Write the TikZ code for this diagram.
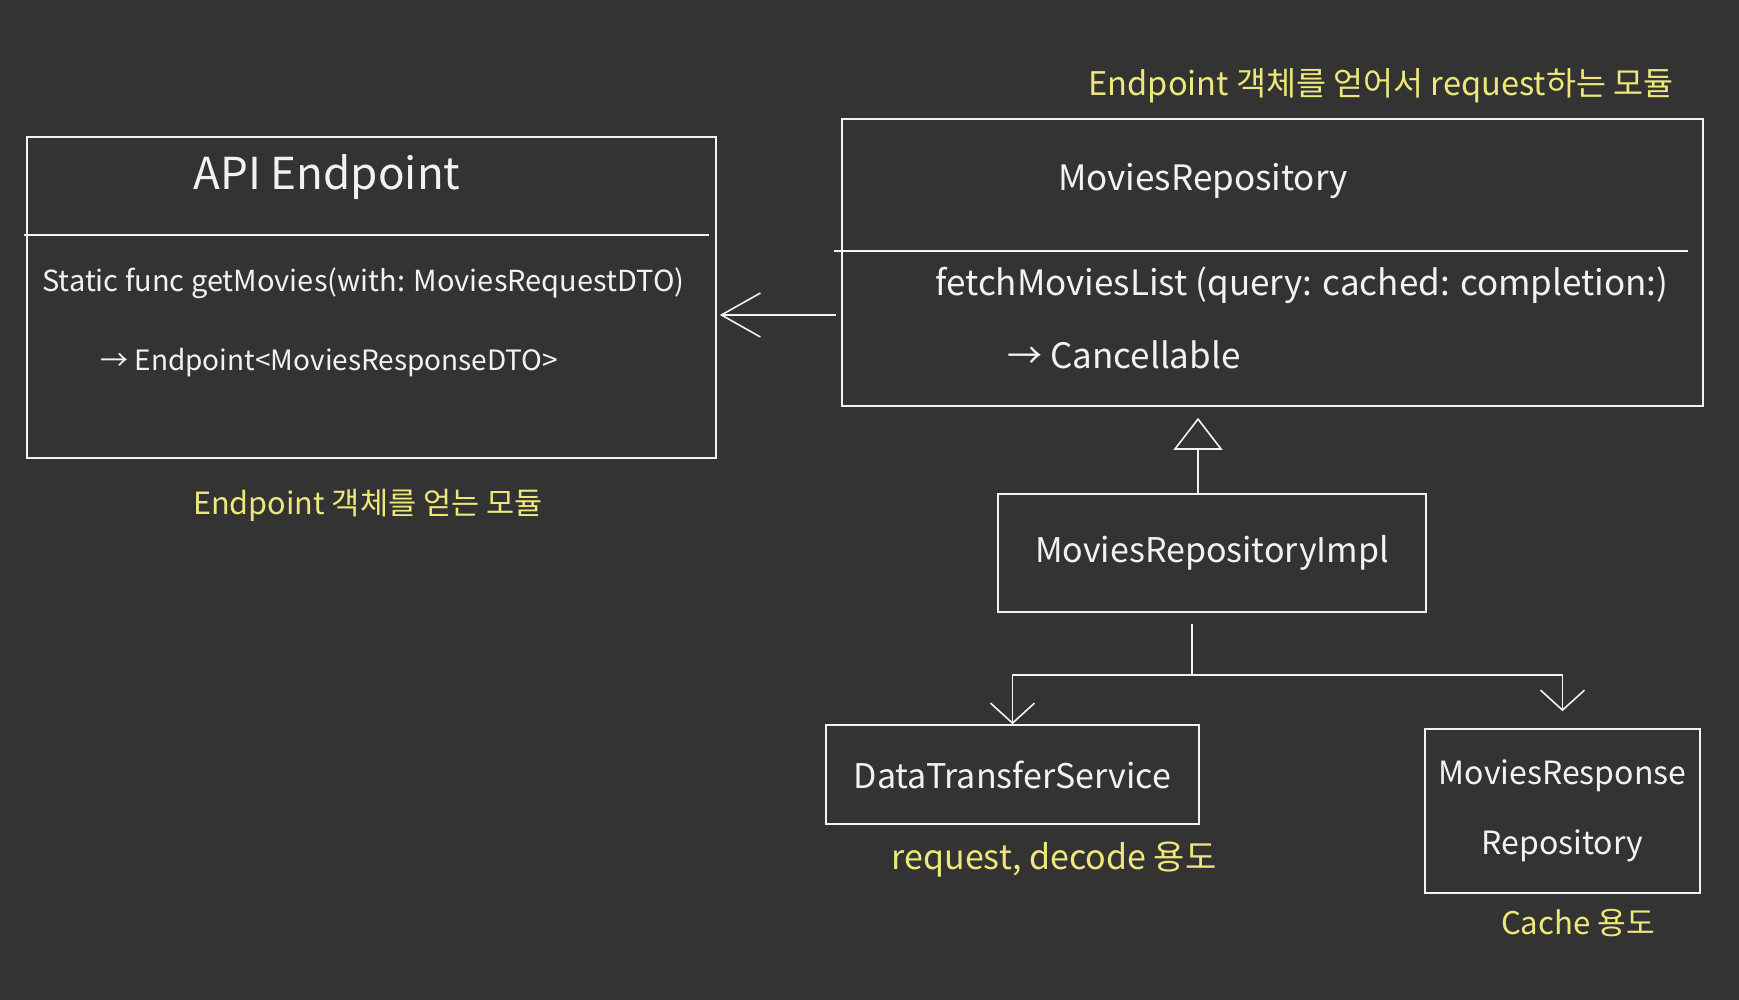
\documentclass[tikz,border=0pt]{standalone}
\usepackage{fontspec}
\setmainfont{Noto Sans CJK KR}
\usetikzlibrary{arrows.meta}
\definecolor{board}{RGB}{51,51,51}
\definecolor{chalk}{RGB}{242,242,242}
\definecolor{marker}{RGB}{238,232,122}
\tikzset{
  box/.style={draw=chalk, line width=0.8pt, inner sep=0pt, text=chalk, align=center},
  hand/.style={text=chalk, inner sep=0pt},
  memo/.style={text=marker, inner sep=0pt},
  barb/.style={arrows={-Straight Barb[length=19.5pt,width=22pt]}, color=chalk, line width=0.8pt},
  drop/.style={arrows={-Straight Barb[length=10pt,width=22pt]}, color=chalk, line width=0.8pt},
  inherit/.style={arrows={-Triangle[open,length=16pt,width=24.5pt]}, color=chalk, line width=0.8pt}
}
\begin{document}
\begin{tikzpicture}[x=0.5pt,y=-0.5pt]
  \fill[board] (0,0) rectangle (1739,1000);
  \useasboundingbox (0,0) rectangle (1739,1000);

  \node[box, minimum width=344.5pt, minimum height=160.5pt] (api) at (371.5,297.5) {};
  \draw[chalk, line width=0.8pt] (24,235) -- (709,235);
  \node[hand, font=\fontsize{22}{26}\selectfont] (apititle) at (327,177) {API Endpoint};
  \node[hand, anchor=west, font=\fontsize{14.5}{17}\selectfont] (apifunc) at (42,283) {Static func getMovies(with: MoviesRequestDTO)};
  \node[hand, anchor=west, font=\fontsize{14}{17}\selectfont] (apiret) at (100,363) {→ Endpoint<MoviesResponseDTO>};
  \node[memo, font=\fontsize{15.3}{18}\selectfont] (apinote) at (368,505) {Endpoint 객체를 얻는 모듈};

  \node[box, minimum width=430.5pt, minimum height=143.5pt] (repo) at (1272.5,262.5) {};
  \draw[chalk, line width=0.8pt] (834,251) -- (1688,251);
  \node[hand, font=\fontsize{17.5}{21}\selectfont] (repotitle) at (1203,181) {MoviesRepository};
  \node[hand, anchor=west, font=\fontsize{17.5}{21}\selectfont] (repofunc) at (935,285) {fetchMoviesList (query: cached: completion:)};
  \node[hand, anchor=west, font=\fontsize{17.5}{21}\selectfont] (reporet) at (1007,355) {→ Cancellable};
  \node[memo, font=\fontsize{16.3}{19}\selectfont] (reponote) at (1381,86) {Endpoint 객체를 얻어서 request하는 모듈};

  \node[box, minimum width=214pt, minimum height=59pt, font=\fontsize{17}{20}\selectfont] (impl) at (1212,553) {MoviesRepositoryImpl};
  \node[box, minimum width=186.5pt, minimum height=49.5pt, font=\fontsize{17}{20}\selectfont] (dts) at (1012.5,774.5) {DataTransferService};
  \node[box, minimum width=137.5pt, minimum height=82pt, font=\fontsize{16}{35}\selectfont] (resp) at (1562.5,811) {MoviesResponse\\Repository};
  \node[memo, font=\fontsize{17}{20}\selectfont] (dtsnote) at (1054,860) {request, decode 용도};
  \node[memo, font=\fontsize{15.6}{19}\selectfont] (respnote) at (1578,923) {Cache 용도};

  \draw[barb, shorten <=2.5pt, shorten >=1.5pt] (repo.west |- 0,315) -- (api.east |- 0,315);
  \draw[inherit, shorten >=5.5pt] (impl.north -| 1198,0) -- (repo.south -| 1198,0);

  \coordinate (split) at (1192,675);
  \draw[chalk, line width=0.8pt, shorten <=5.5pt] (impl.south -| split) -- (split);
  \draw[drop] (split) -| (dts);
  \draw[drop, shorten >=8.5pt] (split) -| (resp);
\end{tikzpicture}
\end{document}
